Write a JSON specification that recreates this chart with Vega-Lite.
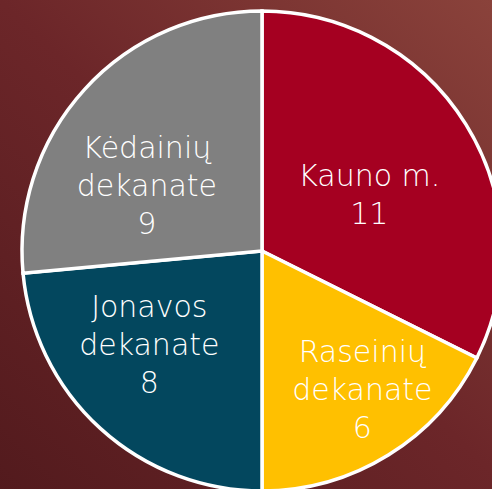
{
  "$schema": "https://vega.github.io/schema/vega-lite/v6.json",
  "width": 524,
  "height": 502,
  "padding": 0,
  "autosize": {"type": "none"},
  "background": "#6a2628",
  "config": {"view": {"stroke": null}},
  "data": {
    "values": [
      {"name": "Kauno m.", "label": "Kauno m.", "value": 11, "ord": 1},
      {"name": "Raseinių dekanate", "label": "Raseinių|dekanate", "value": 6, "ord": 2},
      {"name": "Jonavos dekanate", "label": "Jonavos|dekanate", "value": 8, "ord": 3},
      {"name": "Kėdainių dekanate", "label": "Kėdainių|dekanate", "value": 9, "ord": 4}
    ]
  },
  "transform": [
    {"calculate": "datum.label + '|' + datum.value", "as": "txt"}
  ],
  "layer": [
    {
      "data": {"values": [{"bg": 1}]},
      "transform": [],
      "mark": {
        "type": "rect",
        "color": {
          "gradient": "linear",
          "x1": 0, "y1": 1, "x2": 1, "y2": 0,
          "stops": [
            {"offset": 0, "color": "#521a1d"},
            {"offset": 0.5, "color": "#6c2629"},
            {"offset": 1, "color": "#8c443c"}
          ]
        }
      },
      "encoding": {
        "x": {"value": 0},
        "x2": {"value": "width"},
        "y": {"value": 0},
        "y2": {"value": "height"}
      }
    },
    {
      "mark": {"type": "arc", "outerRadius": 240, "stroke": "white", "strokeWidth": 3.5},
      "encoding": {
        "theta": {"field": "value", "type": "quantitative", "stack": true},
        "order": {"field": "ord", "type": "ordinal"},
        "color": {
          "field": "name",
          "type": "nominal",
          "scale": {
            "domain": ["Kauno m.", "Raseinių dekanate", "Jonavos dekanate", "Kėdainių dekanate"],
            "range": ["#a50021", "#ffc000", "#03475e", "#808080"]
          },
          "legend": null
        }
      }
    },
    {
      "mark": {
        "type": "text",
        "radius": 145,
        "fill": "white",
        "font": "DejaVu Sans",
        "fontWeight": 300,
        "fontSize": 30,
        "lineHeight": 38,
        "lineBreak": "|",
        "align": "center",
        "baseline": "middle",
        "dx": {"expr": "datum.ord == 1 ? -16 : datum.ord == 2 ? 24 : datum.ord == 3 ? -15 : -8"},
        "dy": {"expr": "datum.ord == 1 ? 2 : datum.ord == 2 ? -21 : datum.ord == 3 ? -50 : -4"}
      },
      "encoding": {
        "theta": {"field": "value", "type": "quantitative", "stack": true},
        "order": {"field": "ord", "type": "ordinal"},
        "text": {"field": "txt", "type": "nominal"}
      }
    }
  ]
}
